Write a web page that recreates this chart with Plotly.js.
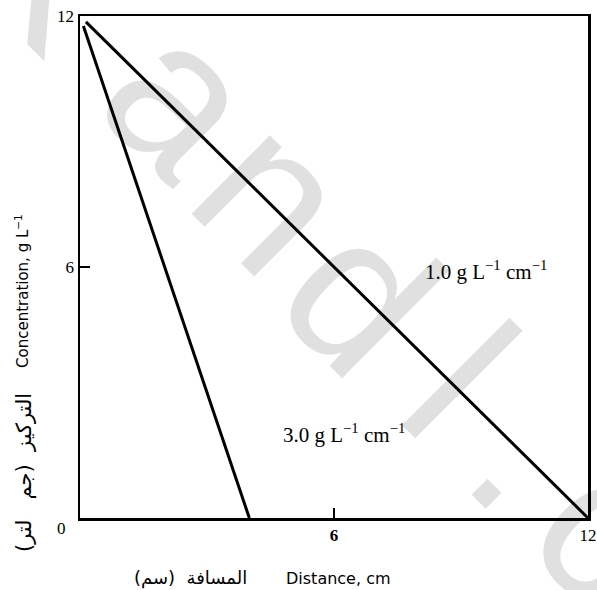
<!DOCTYPE html>
<html>
<head>
<meta charset="utf-8">
<script src="https://cdn.plot.ly/plotly-3.0.1.min.js"></script>
<style>
  html, body { margin: 0; padding: 0; background: #ffffff; }
  #chart { width: 597px; height: 590px; }
</style>
</head>
<body>
<div id="chart"></div>
<script>
// Concentration profiles across the diffusion distance for two gradients
const distanceSlow = [0.14, 12.0];      // cm, gradient 1.0 g L-1 cm-1
const concSlow = [11.86, 0.0];          // g L-1
const distanceFast = [0.08, 4.0];       // cm, gradient 3.0 g L-1 cm-1
const concFast = [11.76, 0.0];          // g L-1

const yTickVals = [6, 12];
const yTickText = ['6', '12'];
const xTickVals = [6, 12];
const xTickText = ['<b>6</b>', '12'];

const gradientLabels = ['1.0 g L<sup>\u22121</sup> cm<sup>\u22121</sup>',
                        '3.0 g L<sup>\u22121</sup> cm<sup>\u22121</sup>'];
const watermarkLetters = ['K', 'a', 'n', 'd', 'l', '.', 'c'];

// page geometry
const W = 597, H = 590;
const M = { l: 80, r: 9, t: 16, b: 72 };
const PW = W - M.l - M.r, PH = H - M.t - M.b;
const px = x => (x - M.l) / PW;
const py = y => (H - M.b - y) / PH;

const serif = 'Liberation Serif, Times New Roman, serif';
const sans = 'DejaVu Sans, Liberation Sans, sans-serif';
const nb = '\u00A0';

const lineStyle = { color: '#000000', width: 3 };
const traces = [
  { x: distanceSlow, y: concSlow, mode: 'lines', line: lineStyle, hoverinfo: 'skip' },
  { x: distanceFast, y: concFast, mode: 'lines', line: lineStyle, hoverinfo: 'skip' }
];

// faint diagonal letters in the background
const wmPos = [[48, -38], [182, 97], [274, 193], [362, 295], [460, 380], [530, 450], [608, 528]];
const annotations = watermarkLetters.map((ch, i) => ({
  text: ch, xref: 'paper', yref: 'paper',
  x: px(wmPos[i][0]), y: py(wmPos[i][1]),
  xanchor: 'center', yanchor: 'middle', showarrow: false, textangle: 45,
  font: { family: 'Liberation Sans, Arial, sans-serif', size: 210, color: 'rgba(0,0,0,0.12)' }
}));

annotations.push(
  { text: gradientLabels[0], xref: 'paper', yref: 'paper', x: px(486), y: py(270),
    xanchor: 'center', yanchor: 'middle', showarrow: false,
    font: { family: serif, size: 21, color: '#000' } },
  { text: gradientLabels[1], xref: 'paper', yref: 'paper', x: px(344), y: py(433),
    xanchor: 'center', yanchor: 'middle', showarrow: false,
    font: { family: serif, size: 21, color: '#000' } },
  { text: '0', xref: 'paper', yref: 'paper', x: px(61), y: py(528),
    xanchor: 'center', yanchor: 'middle', showarrow: false,
    font: { family: serif, size: 17, color: '#000' } },
  { text: 'Concentration, g L<sup>\u22121</sup>', xref: 'paper', yref: 'paper', x: px(22), y: py(291),
    xanchor: 'center', yanchor: 'middle', showarrow: false, textangle: -90,
    font: { family: sans, size: 15, color: '#000' } },
  { text: '\u0627\u0644\u062A\u0631\u0643\u064A\u0632' + nb + nb + '(\u062C\u0645' + nb + nb + nb + '\u0644\u062A\u0631)',
    xref: 'paper', yref: 'paper', x: px(24), y: py(473),
    xanchor: 'center', yanchor: 'middle', showarrow: false, textangle: -90,
    font: { family: sans, size: 21, color: '#000' } },
  { text: 'Distance, cm', xref: 'paper', yref: 'paper', x: px(338), y: py(578),
    xanchor: 'center', yanchor: 'middle', showarrow: false,
    font: { family: sans, size: 16, color: '#000' } },
  { text: '\u0627\u0644\u0645\u0633\u0627\u0641\u0629' + nb + nb + '(\u0633\u0645)', xref: 'paper', yref: 'paper', x: px(190), y: py(578),
    xanchor: 'center', yanchor: 'middle', showarrow: false,
    font: { family: sans, size: 18, color: '#000' } }
);

const axisCommon = {
  range: [0, 12], showline: true, mirror: true, linecolor: '#000', linewidth: 2.5,
  showgrid: false, zeroline: false, ticks: 'inside', ticklen: 10, tickwidth: 2,
  tickcolor: '#000', tickmode: 'array', fixedrange: true,
  tickfont: { family: serif, size: 17, color: '#000' }
};

const layout = {
  width: W, height: H, margin: M,
  paper_bgcolor: '#ffffff', plot_bgcolor: 'rgba(0,0,0,0)',
  showlegend: false,
  xaxis: Object.assign({}, axisCommon, { tickvals: xTickVals, ticktext: xTickText }),
  yaxis: Object.assign({}, axisCommon, { tickvals: yTickVals, ticktext: yTickText }),
  annotations: annotations
};

Plotly.newPlot('chart', traces, layout, { staticPlot: true, displayModeBar: false });
</script>
</body>
</html>
